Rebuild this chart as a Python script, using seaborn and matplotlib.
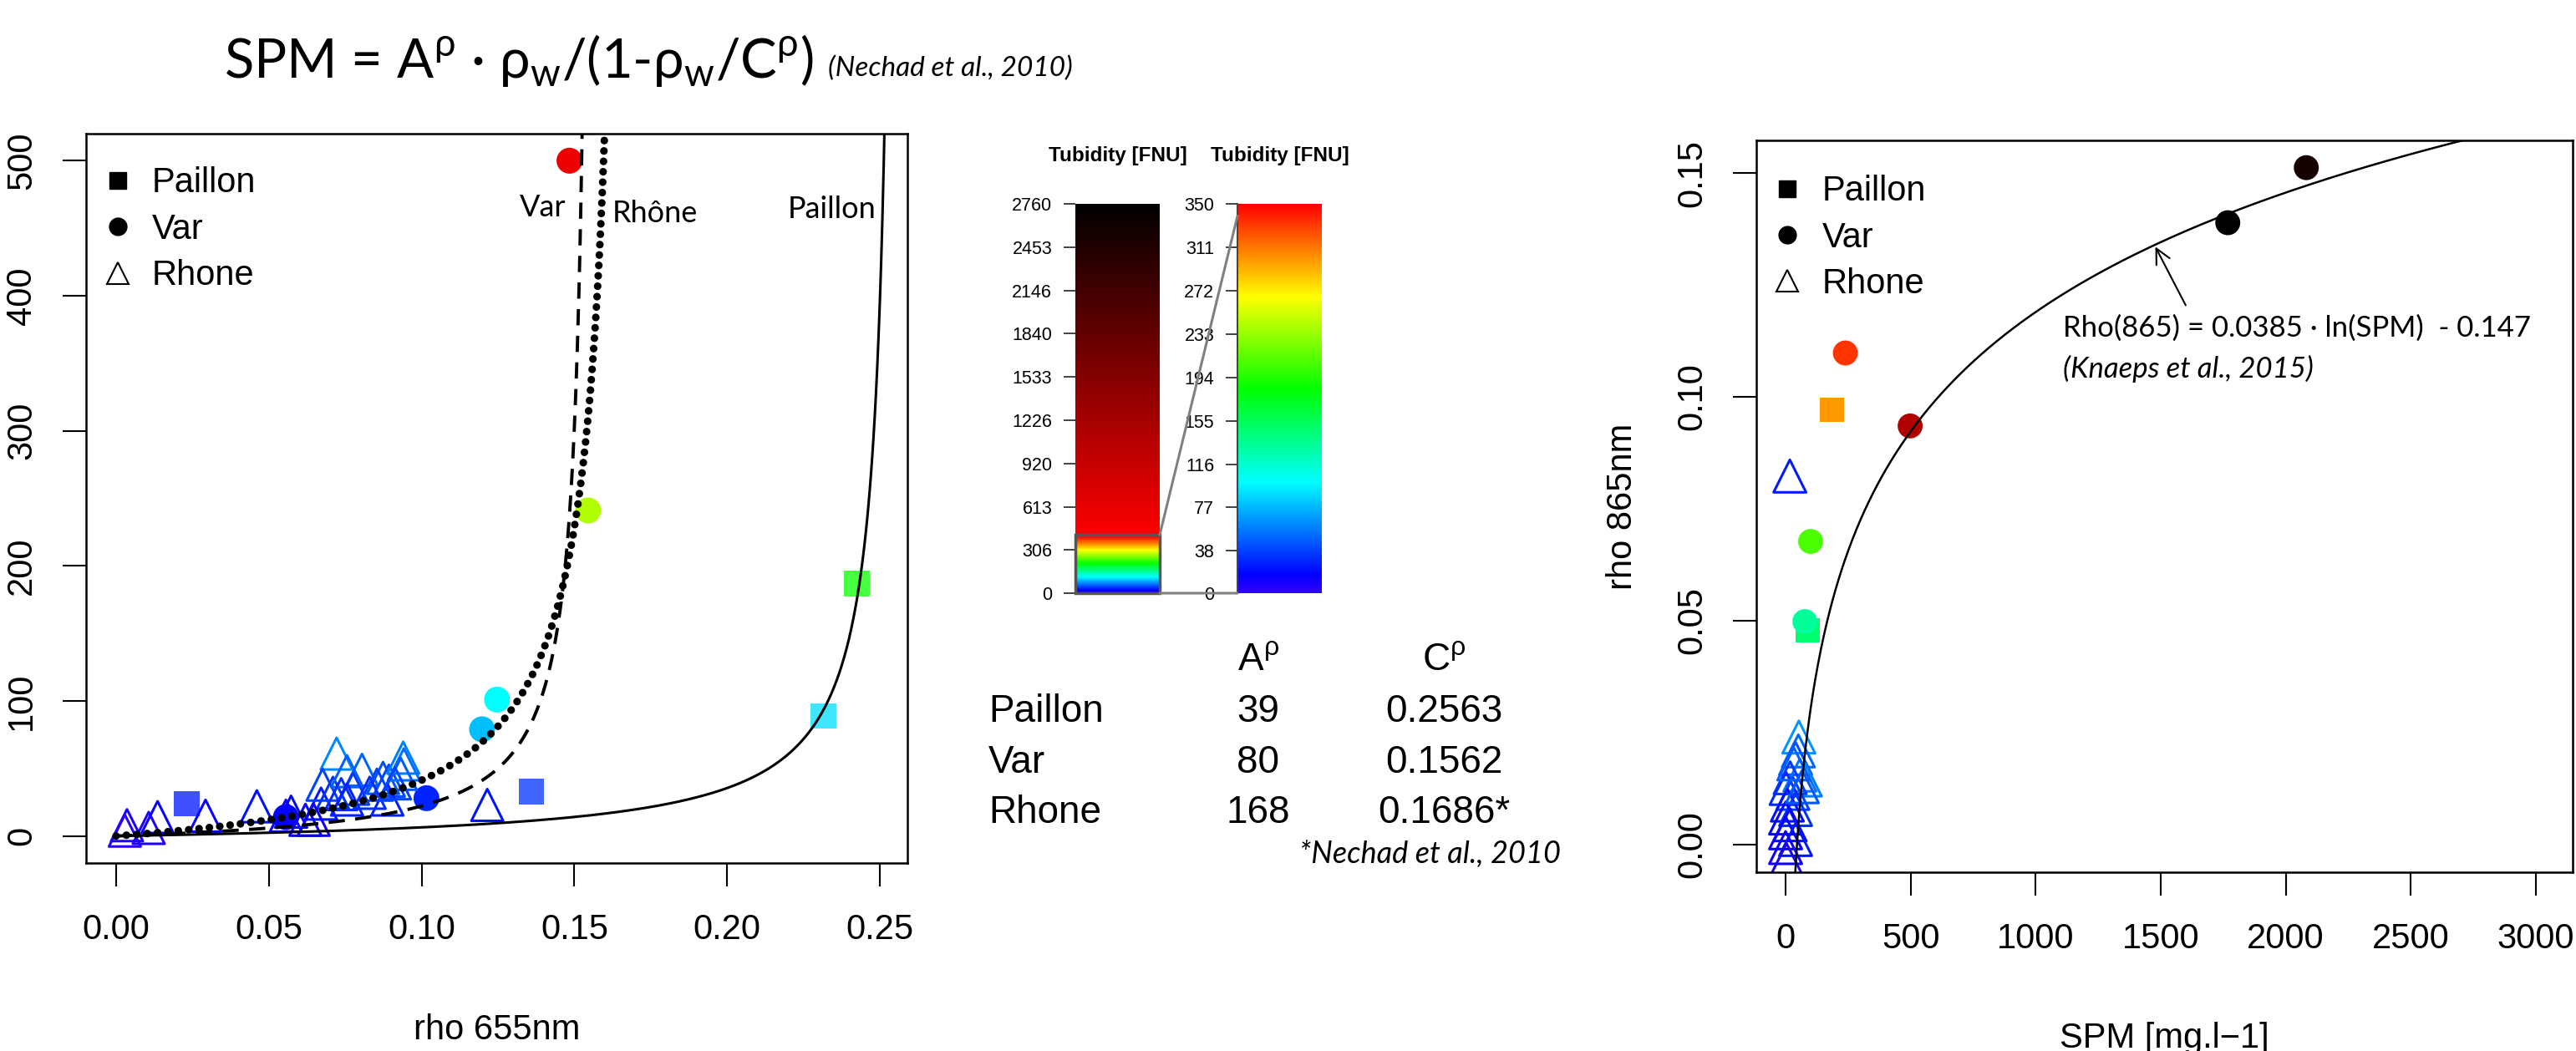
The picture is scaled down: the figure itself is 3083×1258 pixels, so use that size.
import numpy as np
import pandas as pd
import matplotlib
matplotlib.use("Agg")
import matplotlib.pyplot as plt
import seaborn as sns
from matplotlib.colors import hsv_to_rgb
from matplotlib.lines import Line2D
from matplotlib.patches import Rectangle, ConnectionPatch

W, H = 3083, 1258

# --- left panel: rho 655nm vs turbidity (FNU)
var_rho655 = [0.1484, 0.1545, 0.1247, 0.1198, 0.1016, 0.0556]
var_turb = [500, 241, 101, 79, 28, 14]
paillon_rho655 = [0.2425, 0.2315, 0.1359, 0.0231]
paillon_turb = [187, 89, 33, 24]
rhone_rho655 = [0.0036, 0.0029, 0.0107, 0.0136, 0.0293, 0.0461, 0.0573, 0.0556,
                0.0620, 0.0671, 0.0722, 0.0676, 0.0710, 0.0756, 0.0805, 0.0737,
                0.0776, 0.0756, 0.0874, 0.0893, 0.0940, 0.0942, 0.0932, 0.0888,
                0.1215, 0.0647, 0.0830, 0.0913, 0.0854]
rhone_turb = [8, 4, 6, 14, 15, 22, 18, 15, 12, 24, 61, 38, 32, 48, 49, 31,
              35, 27, 43, 41, 58, 53, 46, 27, 23, 12, 32, 39, 38]

# --- Nechad calibration coefficients
rivers = ["Paillon", "Var", "Rhone"]
A_rho = [39, 80, 168]
C_rho = [0.2563, 0.1562, 0.1686]
C_text = ["0.2563", "0.1562", "0.1686*"]

# --- right panel: SPM vs rho 865nm
var_spm = [2082, 1768, 498, 239, 100, 77]
var_rho865 = [0.1512, 0.1389, 0.0935, 0.1098, 0.0677, 0.0498]
var_turb_r = [2560, 2760, 1100, 333, 208, 133]
paillon_spm = [186, 89]
paillon_rho865 = [0.0971, 0.0478]
paillon_turb_r = [300, 148]
rhone_spm = [17, 53, 51, 40, 57, 18, 79, 2, 29, 7, 40, 0, 18, 0, 40, 0, 4, 33, 67]
rhone_rho865 = [0.0823, 0.0240, 0.0209, 0.0192, 0.0155, 0.0149, 0.0144, 0.0125,
                0.0114, 0.0088, 0.0078, 0.0059, 0.0044, 0.0026, 0.0011, -0.0007,
                -0.0034, 0.0180, 0.0129]
rhone_turb_r = [25, 65, 50, 42, 55, 35, 58, 30, 38, 22, 32, 18, 20, 14, 24, 12, 8, 48, 45]
knaeps_slope, knaeps_icpt = 0.0385, -0.147

# --- colour scale ticks
full_ticks = [0, 306, 613, 920, 1226, 1533, 1840, 2146, 2453, 2760]
zoom_ticks = [0, 38, 77, 116, 155, 194, 233, 272, 311, 350]
TURB_MAX = 2760
RAINBOW_TOP = 350
ZOOM_BOX_TOP = 414


def turb_color(v, split=RAINBOW_TOP):
    # rainbow (blue->red) up to split, then red fading to black
    if v <= split:
        return tuple(hsv_to_rgb([0.7 * (1 - v / split), 1, 1]))
    f = max(0.0, 1 - (v - split) / (TURB_MAX - split))
    return (f, 0.0, 0.0)


def fig_rect(x0, y0, x1, y1):
    return [x0 / W, 1 - y1 / H, (x1 - x0) / W, (y1 - y0) / H]


def filled_points(ax, x, y, turb, marker, size, alpha=1.0):
    df = pd.DataFrame({"x": x, "y": y, "id": [f"p{i}" for i in range(len(x))]})
    pal = {f"p{i}": turb_color(t) for i, t in enumerate(turb)}
    sns.scatterplot(data=df, x="x", y="y", hue="id", palette=pal, marker=marker,
                    s=size ** 2, linewidth=0, alpha=alpha, legend=False, ax=ax, zorder=2)


def open_triangles(ax, x, y, turb, size):
    ax.scatter(x, y, marker="^", s=size ** 2, facecolors="none",
               edgecolors=[turb_color(t) for t in turb], linewidths=2.2, zorder=2)


def style_axes(ax):
    for s in ax.spines.values():
        s.set_visible(True)
        s.set_linewidth(1.8)
        s.set_color("black")
    ax.tick_params(axis="both", length=20, width=1.5, labelsize=30, direction="out", color="black")
    ax.tick_params(axis="x", pad=23)
    ax.tick_params(axis="y", pad=21, labelrotation=90)
    for lab in ax.get_yticklabels():
        lab.set_verticalalignment("center")


def river_legend(ax, top):
    handles = [Line2D([], [], ls="none", marker="s", ms=14.5, mfc="black", mec="black"),
               Line2D([], [], ls="none", marker="o", ms=15, mfc="black", mec="black"),
               Line2D([], [], ls="none", marker="^", ms=19, mfc="none", mec="black", mew=1.5)]
    ax.legend(handles, rivers, loc="upper left", bbox_to_anchor=(0.017, top),
              frameon=False, fontsize=30, handlelength=1.0, handletextpad=0.49,
              labelspacing=0.37, borderpad=0, borderaxespad=0, numpoints=1)


sns.set_theme(style="ticks", rc={"axes.edgecolor": "black", "text.color": "black",
                                 "axes.labelcolor": "black", "xtick.color": "black",
                                 "ytick.color": "black"})
plt.rcParams["font.family"] = ["Liberation Sans", "DejaVu Sans"]
CAL = ["Lato", "DejaVu Sans"]

fig = plt.figure(figsize=(W / 100, H / 100), dpi=100)

# ---------------- left panel
axl = fig.add_axes(fig_rect(103, 160, 1086, 1033))
filled_points(axl, paillon_rho655, paillon_turb, paillon_turb, "s", 22, alpha=0.75)
filled_points(axl, var_rho655, var_turb, var_turb, "o", 22.3)
open_triangles(axl, rhone_rho655, rhone_turb, rhone_turb, 27.4)

styles = [dict(linestyle="-", lw=2.2),
          dict(linestyle=(0, (5.0, 3.2)), lw=2.8),
          dict(linestyle=(0, (0.01, 1.35)), lw=6.6, dash_capstyle="round")]
for A, C, st in zip(A_rho, C_rho, styles):
    rho_top = 600 / (A + 600 / C)
    rho = np.linspace(0, rho_top, 600)
    spm = A * rho / (1 - rho / C)
    sns.lineplot(x=rho, y=spm, ax=axl, color="black", sort=False, estimator=None,
                 zorder=3, **st)

axl.set_xlim(-0.0098, 0.259)
axl.set_ylim(-20, 520)
axl.set_xticks([0.00, 0.05, 0.10, 0.15, 0.20, 0.25])
axl.set_xticklabels(["0.00", "0.05", "0.10", "0.15", "0.20", "0.25"])
axl.set_yticks([0, 100, 200, 300, 400, 500])
axl.set_xlabel("rho 655nm", fontsize=30)
axl.set_ylabel("")
axl.xaxis.set_label_coords(0.5, (1033 - 1233) / 873)
axl.xaxis.label.set_verticalalignment("center")
style_axes(axl)
river_legend(axl, 0.955)

axl.text(0.1473, 465, "Var", family=CAL, fontsize=26, ha="right", va="center")
axl.text(0.1624, 461, "Rhône", family=CAL, fontsize=26, ha="left", va="center")
axl.text(0.2488, 464, "Paillon", family=CAL, fontsize=26, ha="right", va="center")

# ---------------- right panel
axr = fig.add_axes(fig_rect(2102, 168, 3079, 1044))
filled_points(axr, paillon_spm, paillon_rho865, paillon_turb_r, "s", 21)
filled_points(axr, var_spm, var_rho865, var_turb_r, "o", 21.5)
open_triangles(axr, rhone_spm, rhone_rho865, rhone_turb_r, 28)

spm_grid = np.linspace(30, 3200, 800)
sns.lineplot(x=spm_grid, y=knaeps_slope * np.log(spm_grid) + knaeps_icpt, ax=axr,
             color="black", lw=1.8, sort=False, estimator=None, zorder=3)
axr.set_xlim(-117, 3147)
axr.set_ylim(-0.0062, 0.1573)
axr.set_xticks([0, 500, 1000, 1500, 2000, 2500, 3000])
axr.set_yticks([0.00, 0.05, 0.10, 0.15])
axr.set_yticklabels(["0.00", "0.05", "0.10", "0.15"])
axr.set_xlabel("SPM [mg.l\u22121]", fontsize=30)
axr.set_ylabel("rho 865nm", fontsize=30)
axr.xaxis.set_label_coords(0.5, (1044 - 1243) / 876)
axr.xaxis.label.set_verticalalignment("center")
axr.yaxis.set_label_coords((1942 - 2102) / 977, 0.5)
axr.yaxis.label.set_verticalalignment("center")
style_axes(axr)
river_legend(axr, 0.953)

axr.annotate("", xy=(1474, 0.1340), xytext=(1604, 0.1200),
             arrowprops=dict(arrowstyle="->", lw=1.5, color="black", mutation_scale=32))
axr.text(1110, 0.1153, "Rho(865) = 0.0385 \u00b7 ln(SPM)  - 0.147", family=CAL,
         fontsize=25, ha="left", va="center")
axr.text(1110, 0.1062, "(Knaeps et al., 2015)", family=CAL, style="italic",
         fontsize=25, ha="left", va="center")

# ---------------- turbidity colour scales
def colour_bar(rect, vmax, ticks, split):
    ax = fig.add_axes(fig_rect(*rect))
    vals = np.linspace(0, vmax, 800)
    img = np.array([turb_color(v, split) for v in vals])[:, None, :]
    ax.imshow(img, extent=[0, 1, 0, vmax], origin="lower", aspect="auto")
    ax.set_xlim(0, 1)
    ax.set_ylim(0, vmax)
    for s in ax.spines.values():
        s.set_visible(False)
    ax.set_xticks([])
    ax.set_yticks(ticks)
    ax.tick_params(axis="y", length=10, width=1.2, labelsize=15.5, pad=10, color="#222222")
    ax.text(0.5, 1 + (244 - 186) / 466, "Tubidity [FNU]", transform=ax.transAxes,
            ha="center", va="center", fontsize=17.5, fontweight="bold")
    return ax


axc1 = colour_bar((1287, 244, 1388, 710), TURB_MAX, full_ticks, 400)
axc2 = colour_bar((1481, 244, 1582, 710), RAINBOW_TOP, zoom_ticks, RAINBOW_TOP)
axc2.spines["left"].set_visible(True)
axc2.spines["left"].set_color("#444444")
axc2.spines["left"].set_linewidth(1.5)
axc1.add_patch(Rectangle((0, 0), 1, ZOOM_BOX_TOP, fill=False, ec="#555555", lw=2.5,
                         clip_on=False, zorder=3))
for yl, yr in [(ZOOM_BOX_TOP, 339), (0, 0)]:
    fig.add_artist(ConnectionPatch(xyA=(1, yl), coordsA=axc1.transData, xyB=(0, yr),
                                   coordsB=axc2.transData, color="#808080", lw=2.2))

# ---------------- coefficient table
fig.text(1506 / W, 1 - 790 / H, "A$^{\\mathregular{\u03c1}}$", fontsize=33, ha="center", va="center")
fig.text(1728 / W, 1 - 790 / H, "C$^{\\mathregular{\u03c1}}$", fontsize=33, ha="center", va="center")
for i, (name, a, c) in enumerate(zip(rivers, A_rho, C_text)):
    yy = 1 - [852, 913, 973][i] / H
    fig.text(1183 / W, yy, name, fontsize=33, ha="left", va="center")
    fig.text(1506 / W, yy, str(a), fontsize=33, ha="center", va="center")
    fig.text(1728 / W, yy, c, fontsize=33, ha="center", va="center")
fig.text(1868 / W, 1 - 1022 / H, "*Nechad et al., 2010", family=CAL, style="italic",
         fontsize=26, ha="right", va="center")

# ---------------- title formula
fig.text(268 / W, 1 - 93 / H,
         "SPM = A$^{\\mathregular{\u03c1}}$ \u00b7 \u03c1$_{\\mathregular{w}}$/(1-\u03c1$_{\\mathregular{w}}$/C$^{\\mathregular{\u03c1}}$)",
         family=CAL, fontsize=47, ha="left", va="baseline")
fig.text(991 / W, 1 - 91 / H, "(Nechad et al., 2010)", family=CAL, style="italic",
         fontsize=24, ha="left", va="baseline")

fig.savefig("out.png", dpi=100)
